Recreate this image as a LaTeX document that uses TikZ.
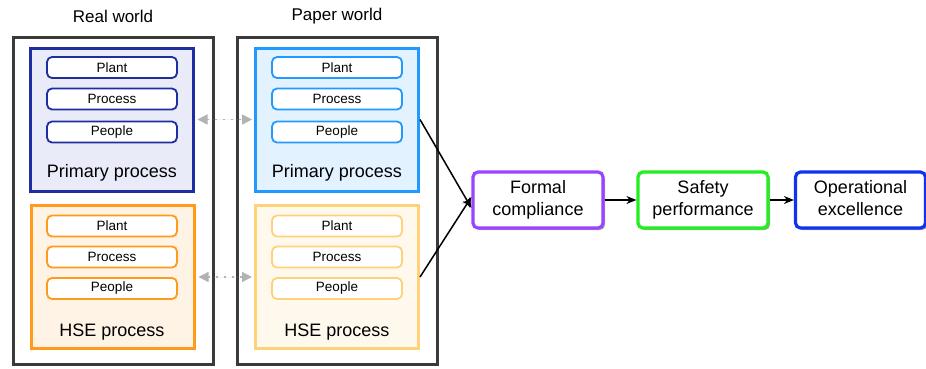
\documentclass[tikz,border=0pt]{standalone}
\usepackage{fontspec}
\setmainfont{Liberation Sans}
\usetikzlibrary{shadows,arrows.meta,calc}
\definecolor{navy}{HTML}{1F2E9E}
\definecolor{navyfill}{HTML}{E9ECF8}
\definecolor{orng}{HTML}{FF9A1A}
\definecolor{orngfill}{HTML}{FFF3E5}
\definecolor{sky}{HTML}{2299FF}
\definecolor{skyfill}{HTML}{E3F2FF}
\definecolor{lorng}{HTML}{FFD27A}
\definecolor{lorngfill}{HTML}{FFF8EC}
\definecolor{purp}{HTML}{9944FF}
\definecolor{grn}{HTML}{22EE22}
\definecolor{blu}{HTML}{1133EE}
\definecolor{frame}{HTML}{3A3A3A}
\begin{document}
\begin{tikzpicture}[x=1pt,y=-1pt,
  world/.style={draw=frame,line width=3pt,fill=white,minimum width=200pt,minimum height=327pt,inner sep=0pt,
     drop shadow={shadow xshift=1.5pt,shadow yshift=-1.5pt,opacity=0.3,fill=black}},
  group/.style={line width=3pt,minimum width=163pt,minimum height=143pt,inner sep=0pt},
  pill/.style={rounded corners=5pt,line width=1.8pt,fill=white,minimum width=130pt,minimum height=21pt,inner sep=0pt,
     font=\fontsize{13.5}{15}\selectfont},
  title/.style={font=\fontsize{17}{20}\selectfont},
  glabel/.style={font=\fontsize{18}{21}\selectfont},
  result/.style={rounded corners=5pt,line width=3.2pt,fill=white,minimum width=130pt,minimum height=56pt,inner sep=0pt,
     align=center,font=\fontsize{18}{22}\selectfont,
     drop shadow={shadow xshift=2pt,shadow yshift=-2pt,opacity=0.35,fill=black}},
  link/.style={-{Stealth[length=10pt,width=8pt]},line width=1.5pt,black},
  mirror/.style={{Triangle[length=10pt,width=10pt]}-{Triangle[length=10pt,width=10pt]},line width=1.3pt,draw=gray!60,fill=gray!60,dash pattern=on 2pt off 6pt}
]
\useasboundingbox (0,0) rectangle (926,368);

% titles
\node[title] (trw) at (113,16) {Real world};
\node[title] (tpw) at (337,16) {Paper world};

% outer worlds
\node[world] (rw) at (113,200.5) {};
\node[world] (pw) at (337.5,200.5) {};

% real world groups
\node[group,draw=navy,fill=navyfill] (rb) at (111.5,119.5) {};
\node[pill,draw=navy] (rb1) at (112,67.5) {Plant};
\node[pill,draw=navy] (rb2) at (112,99) {Process};
\node[pill,draw=navy] (rb3) at (112,132) {People};
\node[glabel] (rbl) at (112,173) {Primary process};

\node[group,draw=orng,fill=orngfill] (ro) at (112.5,277) {};
\node[pill,draw=orng] (ro1) at (112,226) {Plant};
\node[pill,draw=orng] (ro2) at (112,257) {Process};
\node[pill,draw=orng] (ro3) at (112,288.5) {People};
\node[glabel] (rol) at (112,332) {HSE process};

% paper world groups
\node[group,draw=sky,fill=skyfill] (pb) at (337,119.5) {};
\node[pill,draw=sky] (pb1) at (337,67.5) {Plant};
\node[pill,draw=sky] (pb2) at (337,99) {Process};
\node[pill,draw=sky] (pb3) at (337,132) {People};
\node[glabel] (pbl) at (337,173) {Primary process};

\node[group,draw=lorng,fill=lorngfill] (po) at (337,277) {};
\node[pill,draw=lorng] (po1) at (337,226) {Plant};
\node[pill,draw=lorng] (po2) at (337,257) {Process};
\node[pill,draw=lorng] (po3) at (337,288.5) {People};
\node[glabel] (pol) at (337,332) {HSE process};

% result chain
\node[result,draw=purp] (fc) at (538,200) {Formal\strut\\compliance\strut};
\node[result,draw=grn] (sp) at (703,200) {Safety\strut\\performance\strut};
\node[result,draw=blu] (oe) at (860.5,200) {Operational\strut\\excellence\strut};

% connectors
\draw[mirror] ([xshift=3pt]rb.east) -- ([xshift=-2pt]pb.west);
\draw[mirror] ([xshift=3pt]ro.east) -- ([xshift=-2pt]po.west);
\draw[link] (pb.east) -- ([yshift=-8pt]fc.west);
\draw[link] (po.east) -- ([yshift=3pt]fc.west);
\draw[link] (fc.east) -- (sp.west);
\draw[link] (sp.east) -- (oe.west);
\end{tikzpicture}
\end{document}
